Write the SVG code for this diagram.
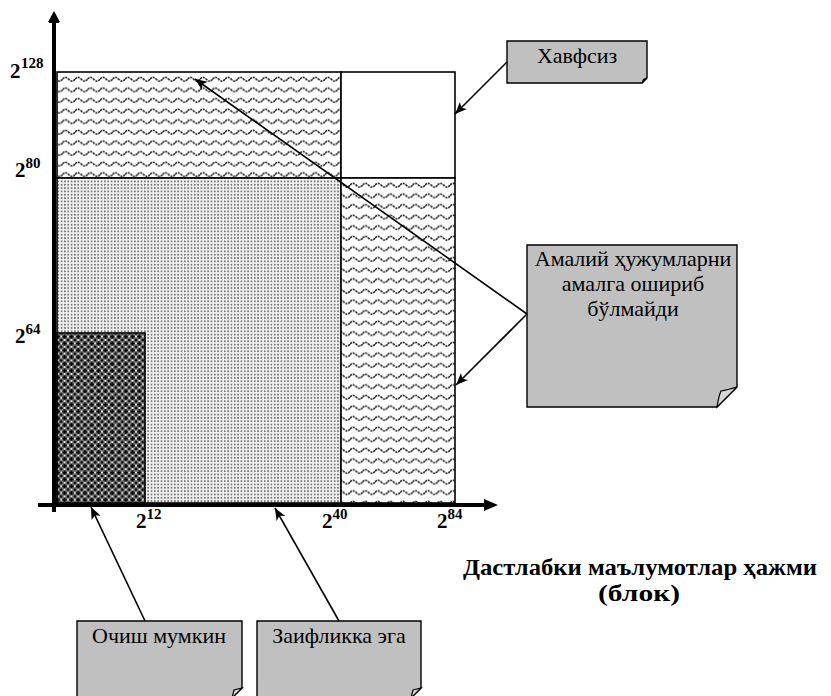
<svg xmlns="http://www.w3.org/2000/svg" width="831" height="696" viewBox="0 0 831 696">
  <style>
    .ax { stroke: #000; stroke-width: 4; fill: none; }
    .cell { stroke: #000; stroke-width: 1.6; }
    .note { fill: #c0c0c0; stroke: #000; stroke-width: 1.4; }
    .flap { fill: #d8d8d8; stroke: #000; stroke-width: 1.2; }
    .lead { stroke: #000; stroke-width: 1.6; fill: none; }
    .lbl { font-family: "Liberation Serif", "Times New Roman", serif; font-weight: bold; fill: #000; }
    .big { font-size: 21px; }
    .sup { font-size: 15px; }
    .ntxt { font-family: "Liberation Serif", "Times New Roman", serif; font-size: 22px; fill: #000; text-anchor: middle; }
    .title { font-family: "Liberation Serif", "Times New Roman", serif; font-size: 24px; font-weight: bold; fill: #000; text-anchor: middle; }
  </style>
  <defs>
    <pattern id="wave" width="12.5" height="10.6" patternUnits="userSpaceOnUse">
      <rect width="12.5" height="10.6" fill="#fff"/>
      <path d="M0,5 Q3.125,1.4 6.25,5 T12.5,5" fill="none" stroke="#1e1e1e" stroke-width="1.6" stroke-dasharray="2.2 0.9"/>
    </pattern>
    <pattern id="dots" width="3.33" height="3.33" patternUnits="userSpaceOnUse">
      <rect width="3.33" height="3.33" fill="#f2f2f2"/>
      <circle cx="1.66" cy="1.66" r="0.95" fill="#707070"/>
    </pattern>
    <pattern id="check" width="6.8" height="6.8" patternUnits="userSpaceOnUse">
      <rect width="6.8" height="6.8" fill="#767676"/>
      <path d="M3.4,1.2 V5.6 M1.2,3.4 H5.6" stroke="#000" stroke-width="1.7"/>
      <path d="M0,-1.2 V1.2 M-1.2,0 H1.2 M6.8,-1.2 V1.2 M5.6,0 H8 M0,5.6 V8 M-1.2,6.8 H1.2 M6.8,5.6 V8 M5.6,6.8 H8" stroke="#000" stroke-width="1.7"/>
      <circle cx="3.4" cy="0" r="0.9" fill="#fff"/>
      <circle cx="3.4" cy="6.8" r="0.9" fill="#fff"/>
      <circle cx="0" cy="3.4" r="0.9" fill="#fff"/>
      <circle cx="6.8" cy="3.4" r="0.9" fill="#fff"/>
    </pattern>
    <marker id="arr" markerUnits="userSpaceOnUse" markerWidth="14" markerHeight="12" refX="12" refY="5" orient="auto">
      <path d="M0,0 L12,5 L0,10 L3,5 Z" fill="#000"/>
    </marker>
  </defs>

  <!-- chart regions -->
  <g id="regions">
    <rect id="top-left" class="cell" x="57" y="72" width="284" height="106" fill="url(#wave)"/>
    <rect id="top-right" class="cell" x="341" y="72" width="114" height="106" fill="#fff"/>
    <rect id="low-left" class="cell" x="57" y="178" width="284" height="325" fill="url(#dots)"/>
    <rect id="low-right" class="cell" x="341" y="178" width="114" height="325" fill="url(#wave)"/>
    <rect id="corner" class="cell" x="57" y="333" width="88" height="170" fill="url(#check)"/>
  </g>

  <!-- axes -->
  <g id="axes">
    <line class="ax" x1="54" y1="21" x2="54" y2="512"/>
    <path d="M54,11 L60,22 L48,22 Z" fill="#000"/>
    <line x1="49" y1="22" x2="59" y2="22" stroke="#000" stroke-width="2"/>
    <line class="ax" x1="38" y1="505" x2="486" y2="505"/>
    <path d="M498,505 L484,499 L484,511 Z" fill="#000"/>
  </g>

  <!-- axis labels -->
  <g id="y-labels" class="lbl">
    <text class="big" x="10" y="78">2</text><text class="sup" x="21" y="68">128</text>
    <text class="big" x="15" y="177">2</text><text class="sup" x="25.5" y="168">80</text>
    <text class="big" x="15" y="343">2</text><text class="sup" x="25.5" y="334">64</text>
  </g>
  <g id="x-labels" class="lbl">
    <text class="big" x="136" y="528">2</text><text class="sup" x="146.5" y="519">12</text>
    <text class="big" x="322" y="528">2</text><text class="sup" x="332.5" y="519">40</text>
    <text class="big" x="437" y="528">2</text><text class="sup" x="447.5" y="519">84</text>
  </g>

  <g id="axis-title">
    <text class="title" x="640" y="575" textLength="354" lengthAdjust="spacingAndGlyphs">Дастлабки маълумотлар ҳажми</text>
    <text class="title" x="639" y="601" textLength="82" lengthAdjust="spacingAndGlyphs">(блок)</text>
  </g>

  <!-- callout notes -->
  <g id="note-safe">
    <path class="note" d="M507,41 H647 V78 L642,83 H507 Z"/>
    <path class="flap" d="M642,83 L643.5,79.5 L647,78 Z"/>
    <text class="ntxt" x="577" y="63">Хавфсиз</text>
  </g>
  <g id="note-impractical">
    <path class="note" d="M527,245 H737 V387 L717,407 H527 Z"/>
    <path class="flap" d="M717,407 Q719,395 721,391 Q727,390 737,387 Z"/>
    <text class="ntxt" x="633" y="266">Амалий ҳужумларни</text>
    <text class="ntxt" x="633" y="291">амалга ошириб</text>
    <text class="ntxt" x="633" y="316">бўлмайди</text>
  </g>
  <g id="note-breakable">
    <path class="note" d="M77,621 H242 V688 L232,698 H77 Z"/>
    <path class="flap" d="M232,698 L234,690 L242,688 Z"/>
    <text class="ntxt" x="159" y="643">Очиш мумкин</text>
  </g>
  <g id="note-weak">
    <path class="note" d="M257,621 H421 V688 L411,698 H257 Z"/>
    <path class="flap" d="M411,698 L413,690 L421,688 Z"/>
    <text class="ntxt" x="339" y="643">Заифликка эга</text>
  </g>

  <!-- connectors -->
  <g id="connectors">
    <line class="lead" x1="507" y1="62" x2="455" y2="114" marker-end="url(#arr)"/>
    <line class="lead" x1="527" y1="314" x2="195" y2="79" marker-end="url(#arr)"/>
    <line class="lead" x1="527" y1="314" x2="456" y2="385" marker-end="url(#arr)"/>
    <line class="lead" x1="145" y1="621" x2="91" y2="507" marker-end="url(#arr)"/>
    <line class="lead" x1="339" y1="621" x2="275" y2="508" marker-end="url(#arr)"/>
  </g>
</svg>
